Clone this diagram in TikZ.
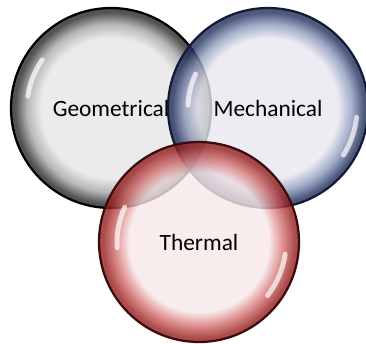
\documentclass[tikz,border=0pt]{standalone}
\usepackage{fontspec}
\setmainfont{Carlito}
\usepackage{tikz}

\definecolor{geoin}{RGB}{230,230,230}
\definecolor{geomid}{RGB}{165,165,165}
\definecolor{georim}{RGB}{40,40,40}
\definecolor{mechin}{RGB}{231,231,239}
\definecolor{mechmid}{RGB}{140,152,188}
\definecolor{mechrim}{RGB}{32,46,90}
\definecolor{thermin}{RGB}{248,231,231}
\definecolor{thermmid}{RGB}{212,112,112}
\definecolor{thermrim}{RGB}{150,30,30}

\pgfdeclareradialshading{geoshade}{\pgfpoint{0bp}{0bp}}{color(0bp)=(geoin); color(17.5bp)=(geoin); color(21bp)=(geomid); color(24bp)=(georim); color(50bp)=(georim)}
\pgfdeclareradialshading{mechshade}{\pgfpoint{0bp}{0bp}}{color(0bp)=(mechin); color(17.5bp)=(mechin); color(21bp)=(mechmid); color(24bp)=(mechrim); color(50bp)=(mechrim)}
\pgfdeclareradialshading{thermshade}{\pgfpoint{0bp}{0bp}}{color(0bp)=(thermin); color(17.5bp)=(thermin); color(21bp)=(thermmid); color(24bp)=(thermrim); color(50bp)=(thermrim)}

\tikzset{
  bubble/.style={circle, minimum size=4cm, inner sep=0pt, shade, line width=1.3pt,
    fill opacity=0.8, draw opacity=1, text opacity=1,
    font=\fontsize{13.3pt}{16pt}\selectfont},
  shine/.style={white, line width=2.8pt, opacity=0.7, line cap=round}
}

\begin{document}
\begin{tikzpicture}[x=0.02cm, y=0.02cm]
        \useasboundingbox (0,0) rectangle (366,343);

            % Circles
            \node[bubble, shading=geoshade, draw=black] (geo) at (111,235) {Geometrical};
            \node[bubble, shading=mechshade, draw=mechrim!60!black] (mech) at (268,235) {Mechanical};
            \node[bubble, shading=thermshade, draw=thermrim!40!black] (therm) at (199,101) {Thermal};

            % Highlights
            \draw[shine] ([shift={(145:84)}]geo.center) arc (145:172:84);
            \draw[shine] ([shift={(155:80)}]mech.center) arc (155:178:80);
            \draw[shine] ([shift={(-32:89)}]mech.center) arc (-32:-6:89);
            \draw[shine] ([shift={(155:82)}]therm.center) arc (155:184:82);
            \draw[shine] ([shift={(-38:87)}]therm.center) arc (-38:-8:87);
    \end{tikzpicture}
\end{document}
